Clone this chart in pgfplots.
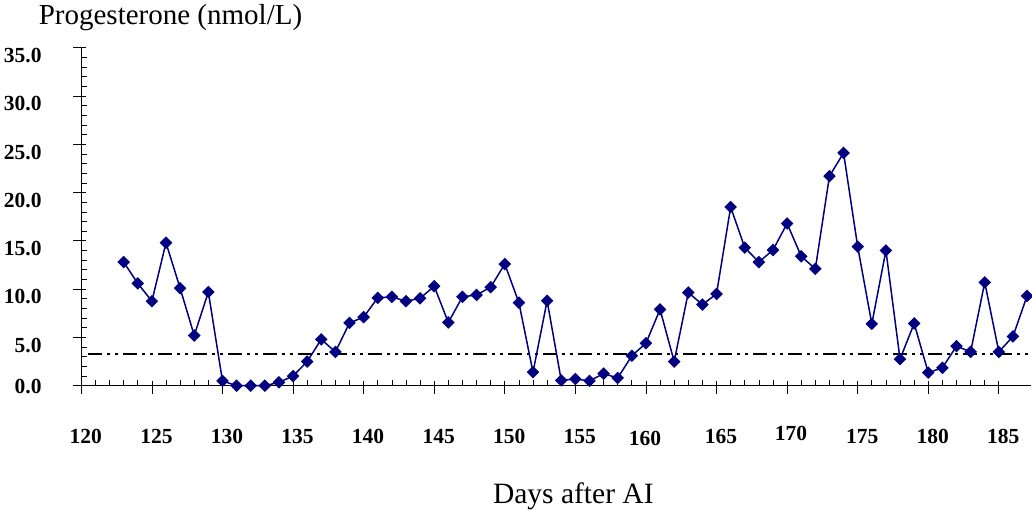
\documentclass[border=0pt]{standalone}
\usepackage{pgfplots}
\pgfplotsset{compat=1.18}
\usepackage{fontspec}
\setmainfont{Liberation Serif}
\definecolor{navy}{RGB}{0,0,128}
\begin{document}
\begin{tikzpicture}
\useasboundingbox (-81.3pt,-123.3pt) rectangle (950.7pt,385.7pt);
\begin{axis}[
  at={(0pt,0pt)}, anchor=south west,
  scale only axis,
  width=950pt, height=338pt,
  xmin=120, xmax=187.3, ymin=0, ymax=35,
  axis lines=left,
  axis line style={-, line width=0.8pt, black},
  clip=false,
  xtick={120,125,...,185},
  xticklabels={120,125,130,135,140,145,150,155,{\raisebox{-1.7pt}{160}\hspace*{11pt}},165,{\raisebox{3.3pt}{170}\hspace*{1pt}},175,180,185},
  ytick={0,5,...,35},
  yticklabels={{\raisebox{7.2pt}{0.0}},5.0,10.0,15.0,20.0,25.0,30.0,35.0},
  minor x tick num=4, minor y tick num=4,
  tick align=center,
  major tick length=13pt, minor tick length=5.5pt,
  major x tick style={yshift=-1.5pt, line width=0.7pt, black},
  minor x tick style={yshift=2.75pt, line width=0.7pt, black},
  major y tick style={xshift=-1.5pt, line width=0.7pt, black},
  minor y tick style={xshift=2.75pt, line width=0.7pt, black},
  ticklabel style={font=\fontsize{21.5}{25}\selectfont\bfseries, inner sep=0pt},
  xticklabel style={anchor=base, yshift=-51.1pt, xshift=4.5pt},
  yticklabel style={anchor=base east, xshift=-33pt, yshift=-14.8pt},
]
\addplot[black, line width=2.4pt, dash pattern=on 14pt off 5pt on 3pt off 5pt on 3pt off 5pt] coordinates {(120.5,3.3) (187.3,3.3)};
\addplot[navy, line width=1.5pt, mark=square*, mark size=3.7pt, mark options={rotate=45, fill=navy, draw=navy, solid}] coordinates {
(123,12.8) (124,10.6) (125,8.75) (126,14.8) (127,10.1) (128,5.2) (129,9.7)
(130,0.5) (131,0.0) (132,0.0) (133,0.0) (134,0.35) (135,1.0) (136,2.5)
(137,4.8) (138,3.5) (139,6.5) (140,7.1) (141,9.1) (142,9.2) (143,8.75)
(144,9.05) (145,10.3) (146,6.55) (147,9.2) (148,9.4) (149,10.2) (150,12.6)
(151,8.6) (152,1.4) (153,8.8) (154,0.55) (155,0.7) (156,0.5) (157,1.25)
(158,0.8) (159,3.1) (160,4.4) (161,7.9) (162,2.5) (163,9.65) (164,8.4)
(165,9.5) (166,18.5) (167,14.3) (168,12.8) (169,14.05) (170,16.8) (171,13.4)
(172,12.1) (173,21.7) (174,24.1) (175,14.4) (176,6.4) (177,14.0) (178,2.75)
(179,6.45) (180,1.35) (181,1.85) (182,4.1) (183,3.5) (184,10.7) (185,3.5)
(186,5.1) (187,9.3)};
\end{axis}
\node[anchor=base, font=\fontsize{29}{33}\selectfont, inner sep=0pt] at (89.2pt,360.7pt) {Progesterone (nmol/L)};
\node[anchor=base, font=\fontsize{29.5}{33}\selectfont, inner sep=0pt] at (492pt,-117.6pt) {Days after AI};
\end{tikzpicture}
\end{document}
